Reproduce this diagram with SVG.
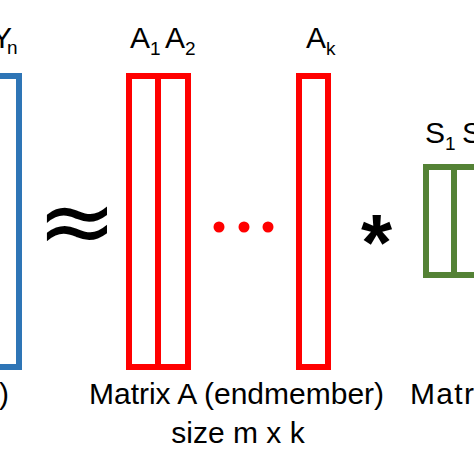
<svg xmlns="http://www.w3.org/2000/svg" width="474" height="474" viewBox="0 0 474 474">
<style>
.t{font-family:"Liberation Sans",Arial,sans-serif;fill:#000;font-size:30px}
.s{font-family:"Liberation Sans",Arial,sans-serif;fill:#000;font-size:19px}
.blue{fill:none;stroke:#2E75B6;stroke-width:6}
.red{fill:none;stroke:#FF0000;stroke-width:6}
.green{fill:none;stroke:#548235;stroke-width:6}
</style>
<rect width="474" height="474" fill="#fff"/>
<g id="matrixY">
<rect class="blue" x="-40" y="76" width="59" height="291"/>
<text class="t" x="-8" y="48">Y</text><text class="s" x="7" y="54">n</text>
<text class="t" x="-1" y="404">)</text>
</g>
<g id="approx">
<text x="77" y="254" font-family="DejaVu Sans,sans-serif" font-size="96" text-anchor="middle" fill="#000">≈</text>
</g>
<g id="matrixA">
<rect class="red" x="129" y="76" width="59" height="291"/>
<line class="red" x1="158" y1="76" x2="158" y2="367"/>
<rect class="red" x="299" y="76" width="29" height="291"/>
<circle cx="219" cy="227" r="5.5" fill="#FF0000"/>
<circle cx="244" cy="227" r="5.5" fill="#FF0000"/>
<circle cx="268" cy="227" r="5.5" fill="#FF0000"/>
<text class="t" x="130" y="48">A</text><text class="s" x="150" y="55">1</text>
<text class="t" x="165" y="48">A</text><text class="s" x="185" y="55">2</text>
<text class="t" x="306" y="48">A</text><text class="s" x="326" y="55">k</text>
<text class="t" x="236.5" y="404" text-anchor="middle">Matrix A (endmember)</text>
<text class="t" x="238" y="443" text-anchor="middle">size m x k</text>
</g>
<g id="times">
<text x="376.5" y="270" font-family="Liberation Sans,sans-serif" font-size="80" font-weight="bold" text-anchor="middle" fill="#000">*</text>
</g>
<g id="matrixS">
<rect class="green" x="426" y="167" width="56" height="108"/>
<line class="green" x1="454" y1="167" x2="454" y2="275"/>
<text class="t" x="425" y="143">S</text><text class="s" x="445" y="150">1</text>
<text class="t" x="462" y="143">S</text>
<text class="t" x="410" y="404" textLength="64" lengthAdjust="spacing">Matr</text>
</g>
<g id="connectors"/>
</svg>
